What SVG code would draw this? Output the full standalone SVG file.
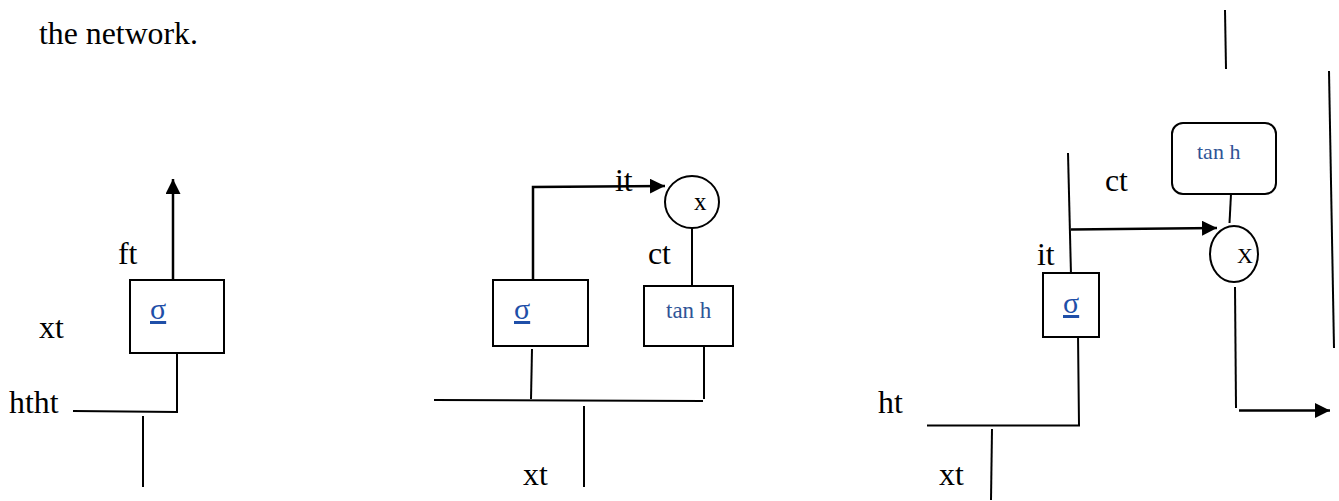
<svg xmlns="http://www.w3.org/2000/svg" width="1339" height="501" viewBox="0 0 1339 501">
<style>
.lbl{font-family:"Liberation Serif","Times New Roman",serif;font-size:31.8px;fill:#000}
.sig{font-family:"Liberation Serif","Times New Roman",serif;font-size:30px;fill:#1f4fa8;text-decoration:underline}
.th{font-family:"Liberation Serif","Times New Roman",serif;font-size:23px;fill:#2f5496}
.th2{font-family:"Liberation Serif","Times New Roman",serif;font-size:22px;fill:#2f5496}
.mul{font-family:"Liberation Serif","Times New Roman",serif;font-size:25px;fill:#000}
.mul2{font-family:"Liberation Serif","Times New Roman",serif;font-size:22px;fill:#000}
.box{fill:#fff;stroke:#000;stroke-width:2}
.ln{fill:none;stroke:#000;stroke-width:2}
.ar{fill:none;stroke:#000;stroke-width:2.5}
</style>
<defs>
<marker id="ah" markerUnits="userSpaceOnUse" markerWidth="16" markerHeight="16" refX="15" refY="7.5" orient="auto">
<path d="M0,0 L15,7.5 L0,15 z" fill="#000"/>
</marker>
</defs>
<rect width="1339" height="501" fill="#fff"/>
<text class="lbl" x="39" y="44">the network.</text>

<g id="connectors">
<line class="ar" x1="173" y1="279" x2="173" y2="179" marker-end="url(#ah)"/>
<polyline class="ln" points="177,347 177,412 73,411"/>
<line class="ln" x1="143" y1="416" x2="143" y2="487"/>
<polyline class="ar" points="533,280 533,187 665,186" marker-end="url(#ah)"/>
<line class="ln" x1="692" y1="228" x2="692" y2="286"/>
<line class="ln" x1="532" y1="349" x2="531" y2="399"/>
<line class="ln" x1="434" y1="400" x2="703" y2="401"/>
<line class="ln" x1="704" y1="340" x2="704" y2="399"/>
<line class="ln" x1="584" y1="406" x2="584" y2="487"/>
<line class="ln" x1="1225" y1="10" x2="1226" y2="69"/>
<line class="ln" x1="1329" y1="71" x2="1334" y2="348"/>
<line class="ln" x1="1068" y1="153" x2="1071" y2="275"/>
<line class="ar" x1="1071" y1="229.5" x2="1217" y2="228" marker-end="url(#ah)"/>
<line class="ln" x1="1231" y1="194" x2="1229.5" y2="223"/>
<polyline class="ln" points="1078,334 1079,425.5 927,425.5"/>
<line class="ln" x1="992" y1="429" x2="991" y2="500"/>
<line class="ln" x1="1235" y1="287" x2="1236" y2="408"/>
<line class="ar" x1="1239" y1="410.5" x2="1330" y2="410.5" marker-end="url(#ah)"/>
</g>

<g id="sigma-f">
<rect class="box" x="130" y="280" width="94" height="73"/>
<text class="sig" x="150" y="319">σ</text>
</g>
<g id="sigma-i">
<rect class="box" x="493" y="280" width="95" height="66"/>
<text class="sig" x="514" y="319">σ</text>
</g>
<g id="tanh-mid">
<rect class="box" x="644" y="286" width="89" height="60"/>
<text class="th" x="666" y="318">tan h</text>
</g>
<g id="mul-mid">
<ellipse class="box" cx="692" cy="202" rx="27" ry="26"/>
<text class="mul" x="694" y="210">x</text>
</g>
<g id="sigma-o">
<rect class="box" x="1043" y="273" width="56" height="64"/>
<text class="sig" x="1063" y="313">σ</text>
</g>
<g id="tanh-right">
<rect class="box" x="1172" y="123" width="104" height="71" rx="11" ry="11"/>
<text class="th2" x="1197" y="159">tan h</text>
</g>
<g id="mul-right">
<ellipse class="box" cx="1234" cy="254" rx="24" ry="28"/>
<text class="mul2" x="1237" y="263">X</text>
</g>

<g id="labels">
<text class="lbl" x="118" y="264">ft</text>
<text class="lbl" x="39" y="338">xt</text>
<text class="lbl" x="9" y="413">htht</text>
<text class="lbl" x="615" y="191">it</text>
<text class="lbl" x="648" y="264">ct</text>
<text class="lbl" x="523" y="485">xt</text>
<text class="lbl" x="1105" y="191">ct</text>
<text class="lbl" x="1037" y="265">it</text>
<text class="lbl" x="878" y="413">ht</text>
<text class="lbl" x="939" y="485">xt</text>
</g>
</svg>
